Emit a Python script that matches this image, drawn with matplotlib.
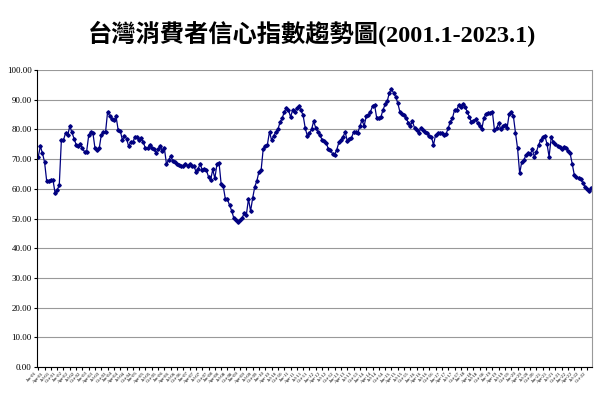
import numpy as np
import pandas as pd
import matplotlib
matplotlib.use("Agg")
import matplotlib.pyplot as plt

# monthly consumer confidence index, 2001.1 - 2023.1
cci_2001_2008 = [70.8, 74.3, 72, 69, 62.7, 62.7, 63, 63, 58.6, 59.5, 61.3, 76.4,
                 76.4, 78.8, 78, 81.1, 79, 76.8, 74.9, 74.3, 75, 73.6, 72.5, 72.5,
                 78, 79, 78.8, 73.6, 72.9, 73.6, 78.2, 79, 79, 86, 84.5, 83.5,
                 83, 84.4, 79.9, 79.6, 76.5, 77.8, 76.9, 74.3, 75.8, 75.6, 77.6, 77.3,
                 76.3, 77, 75.6, 73.6, 73.6, 74.9, 73.6, 73.5, 72.1, 73.3, 74.3, 72.8,
                 73.6, 68.3, 69.7, 70.9, 69.5, 69, 68.3, 68, 67.8, 67.7, 68.5, 67.8,
                 68.2, 67.6, 67.8, 65.8, 66.7, 68.4, 66.4, 66.8, 66.2, 64, 63, 66.5,
                 63.5, 68.3, 68.8, 61.6, 60.8, 56.6, 56.4, 54.5]
cci_2008_2015 = [52.6, 50.2, 49.4, 48.8, 49.4, 50.2, 51.9, 51.3, 56.6, 52.5, 56.9, 60.7,
                 62.7, 65.8, 66.2, 73.4, 74.3, 74.9, 79.2, 76.4, 77.8, 79.2, 80, 82.4,
                 83.7, 85.8, 87.2, 86.6, 84.2, 86.4, 85.7, 87.2, 87.8, 86.4, 84.7, 80.4,
                 77.8, 78.7, 80, 82.7, 80.5, 79.2, 78.1, 76.5, 76, 75.4, 73.4, 73.2,
                 71.7, 71.5, 73.2, 75.6, 76.5, 77.6, 79.1, 76.1, 76.7, 77.2, 79.1, 79.1,
                 78.9, 81.1, 83.2, 81.1, 84.4, 84.7, 85.9, 87.8, 88.2, 83.8, 83.8, 84.2,
                 86.6, 88.4, 89.5, 92.3, 93.6, 92.3, 91, 88.9, 86, 85.2, 84.7, 83.9,
                 82.2, 81.3, 82.7, 80.5]
cci_2015_2023 = [79.8, 78.7, 80.4, 79.8, 79.2, 78.7, 77.7, 77.5, 74.8, 78.1, 78.7, 78.7,
                 78.7, 78.1, 78.5, 80.4, 82.6, 83.7, 86.5, 86.5, 88.2, 87.7, 88.6, 87.7,
                 86, 84.3, 82.6, 82.9, 83.4, 82.1, 81, 80.1, 84, 85.2, 85.4, 85.6,
                 86, 79.8, 80.4, 82.1, 80.1, 81, 81.5, 80.4, 85.1, 86, 84.5, 78.9,
                 73.6, 65.2, 69.1, 69.7, 71.4, 71.9, 71.6, 73.3, 70.8, 72.5, 74.8, 76.4,
                 77.3, 77.8, 75.1, 70.8, 77.3, 75.9, 75.1, 74.4, 74, 73.3, 74.2, 73.6,
                 72.8, 71.9, 68.4, 64.6, 63.9, 63.5, 63.2, 62.1, 60.7, 59.8, 59.4, 60.2]
values = cci_2001_2008 + cci_2008_2015 + cci_2015_2023

months = pd.date_range("2001-01-01", periods=len(values), freq="MS")
labels = [d.strftime("%b-%y") for d in months]
x = np.arange(len(values))

fig = plt.figure(figsize=(6, 4), dpi=100)
ax = fig.add_axes([0.062, 0.0825, 0.925, 0.7425])

ax.plot(x, values, color="#000080", lw=0.9, marker="D", ms=1.8)

ax.set_ylim(0, 100)
ax.set_xlim(-0.5, len(values) - 0.5)
ax.set_yticks(np.arange(0, 101, 10))
ax.set_yticklabels([f"{v:.2f}" for v in range(0, 101, 10)],
                   fontsize=6.5, family="Liberation Serif")
ax.set_xticks(x[::3])
ax.set_xticklabels(labels[::3], rotation=45, fontsize=3.5,
                   family="Liberation Serif", ha="right")
ax.tick_params(axis="x", length=2, pad=1)
ax.tick_params(axis="y", length=2, pad=2)
ax.yaxis.grid(True, color="#999999", lw=0.8)
ax.set_axisbelow(True)
ax.spines["top"].set_visible(False)
ax.spines["right"].set_color("#999999")
ax.spines["left"].set_color("black")
ax.spines["bottom"].set_color("black")

fig.text(0.52, 0.915, "台灣消費者信心指數趨勢圖(2001.1-2023.1)", ha="center",
         va="center", fontsize=17.5, fontweight="bold",
         family=["Liberation Serif", "Noto Sans CJK TC"])

fig.savefig("out.png", dpi=100)
